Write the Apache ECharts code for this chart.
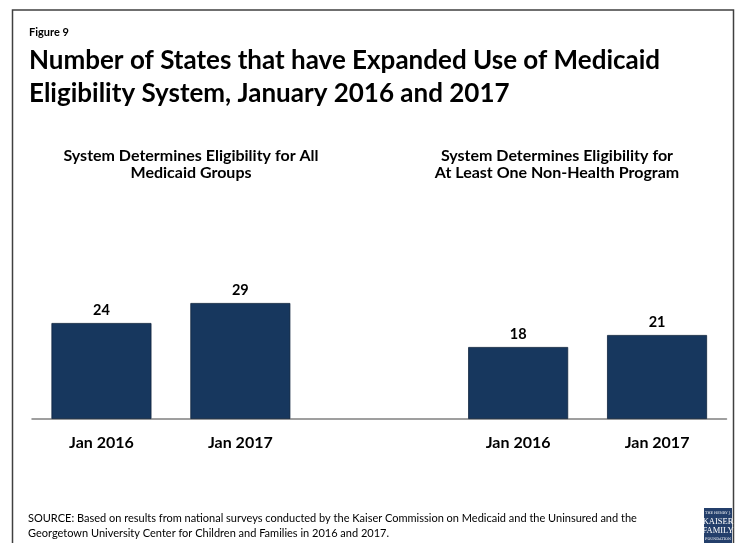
<!DOCTYPE html>
<html>
<head>
<meta charset="utf-8">
<script src="https://cdn.jsdelivr.net/npm/echarts@6/dist/echarts.min.js"></script>
<style>
  html, body { margin: 0; padding: 0; background: #ffffff; }
  #chart { width: 739px; height: 543px; }
</style>
</head>
<body>
<div id="chart"></div>
<script>
// Survey periods shown under each panel
const periods = ['Jan 2016', 'Jan 2017'];
// Number of states whose system determines eligibility for all Medicaid groups
const allMedicaidGroups = [24, 29];
// Number of states whose system determines eligibility for a non-health program
const nonHealthProgram = [18, 21];

const figureLabel = 'Figure 9';
const titleLines = [
  'Number of States that have Expanded Use of Medicaid',
  'Eligibility System, January 2016 and 2017'
];
const panelTitles = [
  'System Determines Eligibility for All\nMedicaid Groups',
  'System Determines Eligibility for\nAt Least One Non-Health Program'
];
const sourceNote = 'SOURCE: Based on results from national surveys conducted by the Kaiser Commission on Medicaid and the Uninsured and the\n' +
  'Georgetown University Center for Children and Families in 2016 and 2017.';

// One shared axis: two panels separated by an empty slot
const categories = [...periods, '', ...periods];
const values = [...allMedicaidGroups, null, ...nonHealthProgram];

const FONT = 'Lato, "Open Sans", sans-serif';
const NAVY = '#17375e';

const chart = echarts.init(document.getElementById('chart'), null, { renderer: 'canvas' });

chart.setOption({
  backgroundColor: '#ffffff',
  animation: false,
  grid: { left: 32, right: 12.5, top: 259, bottom: 124, containLabel: false },
  xAxis: {
    type: 'category',
    data: categories,
    axisLine: { show: true, lineStyle: { color: '#808080', width: 1.5 } },
    axisTick: { show: false },
    axisLabel: {
      interval: 0,
      margin: 16,
      color: '#000000',
      fontFamily: FONT,
      fontWeight: 'bold',
      fontSize: 16
    }
  },
  yAxis: {
    type: 'value',
    min: 0,
    max: 40,
    show: false,
    splitLine: { show: false }
  },
  series: [{
    type: 'bar',
    data: values,
    barWidth: 100,
    itemStyle: { color: NAVY, borderColor: '#0f233d', borderWidth: 0.8 },
    label: {
      show: true,
      position: 'top',
      distance: 5,
      color: '#000000',
      fontFamily: FONT,
      fontWeight: 'bold',
      fontSize: 14.5
    }
  }],
  graphic: [
    // outer frame
    {
      type: 'rect',
      silent: true,
      shape: { x: 12.5, y: 10, width: 721, height: 545 },
      style: { fill: 'none', stroke: '#404040', lineWidth: 1.5 }
    },
    {
      type: 'text',
      style: {
        text: figureLabel, x: 29, y: 32, textVerticalAlign: 'middle',
        font: 'bold 11px ' + FONT, fill: '#000000'
      }
    },
    {
      type: 'text',
      style: {
        text: titleLines.join('\n'), x: 29, y: 44, lineHeight: 33,
        font: 'bold 26px ' + FONT, fill: '#000000'
      }
    },
    {
      type: 'text',
      style: {
        text: panelTitles[0], x: 191, y: 147, lineHeight: 17, textAlign: 'center',
        font: 'bold 16px ' + FONT, fill: '#000000'
      }
    },
    {
      type: 'text',
      style: {
        text: panelTitles[1], x: 557, y: 147, lineHeight: 17, textAlign: 'center',
        font: 'bold 16px ' + FONT, fill: '#000000'
      }
    },
    {
      type: 'text',
      style: {
        text: sourceNote, x: 28, y: 511, lineHeight: 15,
        font: '11px ' + FONT, fill: '#000000'
      }
    },
    // foundation logo
    {
      type: 'group',
      x: 704, y: 508,
      children: [
        { type: 'rect', shape: { x: 0, y: 0, width: 28, height: 40 }, style: { fill: '#243f6b' } },
        { type: 'text', style: { text: 'THE HENRY J.', x: 14, y: 5, textAlign: 'center', textVerticalAlign: 'middle', font: '3.5px "DejaVu Serif", serif', fill: '#ffffff' } },
        { type: 'text', style: { text: 'KAISER', x: 14, y: 13.5, textAlign: 'center', textVerticalAlign: 'middle', font: '8.5px "Liberation Serif", serif', fill: '#ffffff' } },
        { type: 'text', style: { text: 'FAMILY', x: 14, y: 22.5, textAlign: 'center', textVerticalAlign: 'middle', font: '8.5px "Liberation Serif", serif', fill: '#ffffff' } },
        { type: 'text', style: { text: 'FOUNDATION', x: 14, y: 31, textAlign: 'center', textVerticalAlign: 'middle', font: '3.5px "DejaVu Serif", serif', fill: '#ffffff' } }
      ]
    }
  ]
});
</script>
</body>
</html>
